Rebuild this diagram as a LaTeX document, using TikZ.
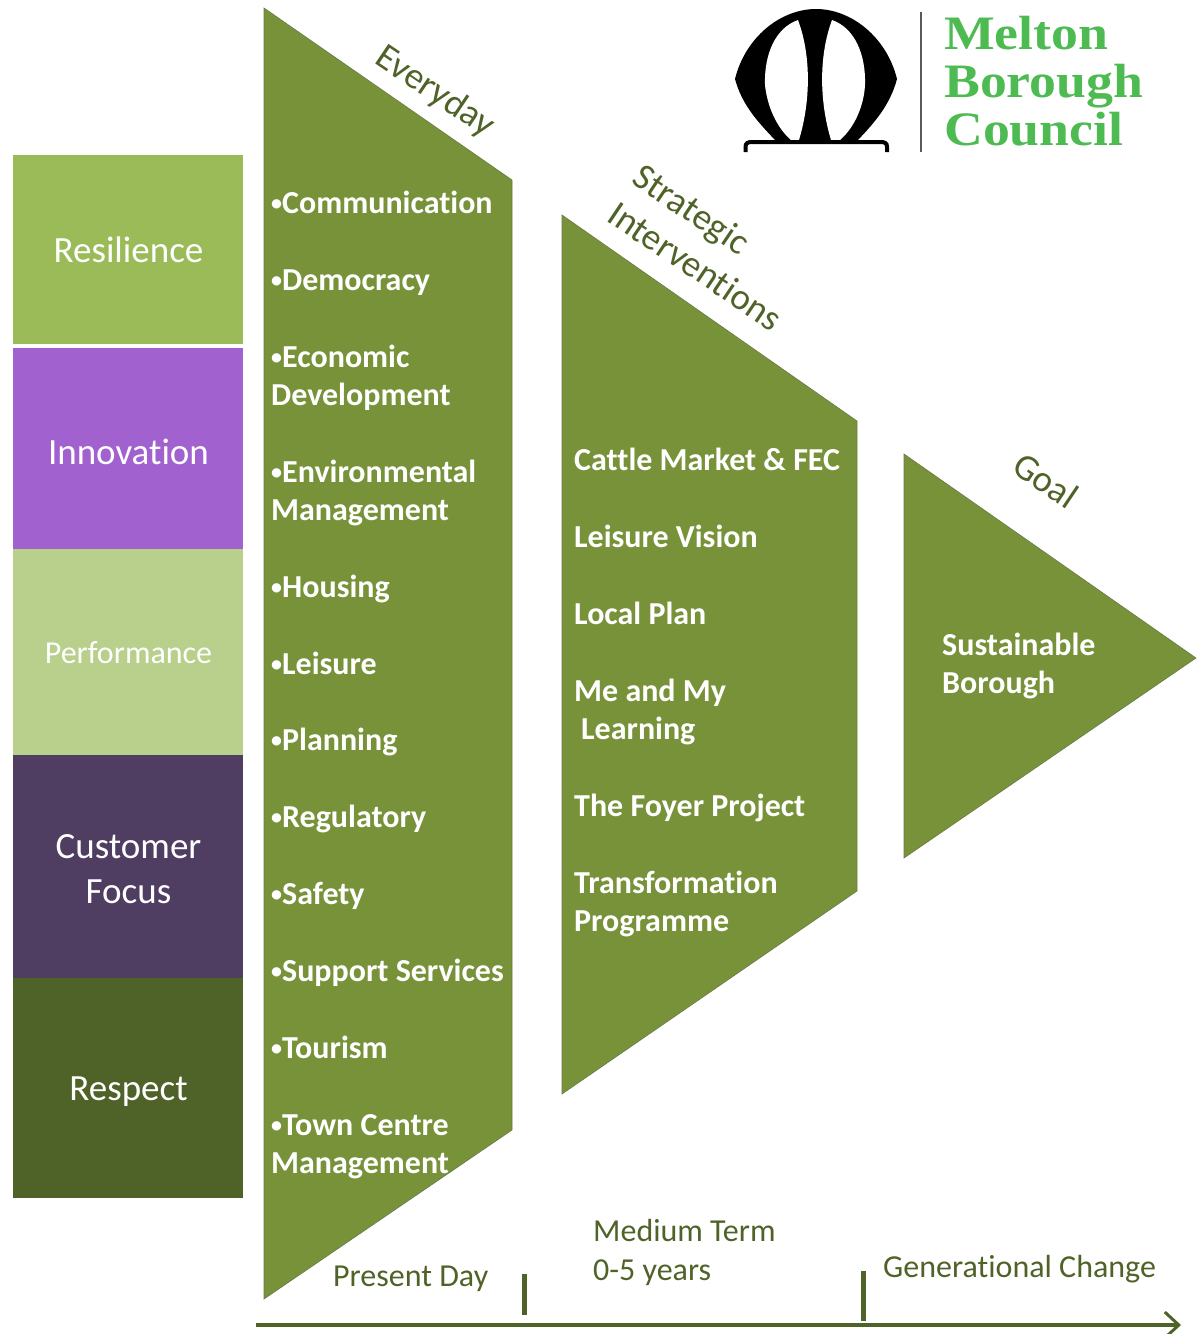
\documentclass[tikz,border=0pt]{standalone}
\usepackage{fontspec}
\setmainfont[Ligatures=NoCommon]{Carlito}
\newfontfamily\logofont[FakeStretch=1.12]{Liberation Serif}
\usetikzlibrary{arrows.meta}
\definecolor{leaf}{HTML}{78923A}
\definecolor{deep}{HTML}{4F6228}
\definecolor{resil}{HTML}{9BBB59}
\definecolor{innov}{HTML}{A162D0}
\definecolor{perf}{HTML}{B9CF8C}
\definecolor{cust}{HTML}{503D62}
\definecolor{logogreen}{HTML}{4DBB52}
\newcommand{\smallbullet}{\raisebox{3.5pt}{\fontsize{22}{22}\selectfont•}}
\tikzset{
  valuebox/.style={anchor=center,text=white,font=\fontsize{37}{45}\selectfont,align=center},
  itemtext/.style={anchor=west,yshift=-3pt,text=white,font=\fontsize{32}{38.3}\selectfont\bfseries,align=left,inner sep=0pt},
  headtext/.style={text=deep,font=\fontsize{37}{45}\selectfont,align=left,inner sep=0pt},
  timetext/.style={anchor=west,yshift=-3pt,text=deep,font=\fontsize{32}{39}\selectfont,align=left,inner sep=0pt},
  leafshape/.style={fill=leaf,draw=deep!85,line width=0.6pt}
}
\begin{document}
\begin{tikzpicture}[x=1pt,y=-1pt]
  \useasboundingbox (0,0) rectangle (1198,1334);
  % values
  \foreach \ya/\yb/\col in {155/344/resil,348/549/innov,549/755/perf,755/978/cust,978/1198/deep}
    \fill[\col] (13,\ya) rectangle (243,\yb);
  \node[valuebox] (resilience) at (128.5,250) {Resilience};
  \node[valuebox] (innovation) at (128.5,452) {Innovation};
  \node[valuebox,font=\fontsize{32}{38}\selectfont] (performance) at (128.5,653) {Performance};
  \node[valuebox] (customer) at (128.5,869) {Customer\\Focus};
  \node[valuebox] (respect) at (128.5,1092) {Respect};
  % arrows
  \path[leafshape] (264,8) -- (512,180) -- (512,1130) -- (264,1299) -- cycle;
  \path[leafshape] (562,215) -- (857,421) -- (857,891) -- (562,1094) -- cycle;
  \path[leafshape] (904,454) -- (1196,658) -- (904,858) -- cycle;
  \node[headtext,rotate=-34] (everyday) at (435,92) {Everyday};
  \node[headtext,rotate=-34] (strategic) at (708,247) {Strategic\\Interventions};
  \node[headtext,rotate=-34] (goal) at (1046,480) {Goal};
  % everyday list
  \foreach \y/\txt in {203/Communication,280/Democracy,376/Economic\\\phantom{}Development,491/Environmental\\\phantom{}Management,
    587/Housing,664/Leisure,740/Planning,817/Regulatory,894/Safety,971/Support Services,1048/Tourism,1144/Town Centre\\\phantom{}Management}
    \node[itemtext] (item\y) at (271,\y) {\strut\smallbullet\txt\strut};
  % interventions
  \foreach \y/\txt in {460/Cattle Market \& FEC,537/Leisure Vision,614/Local Plan,710/Me and My\\\hspace*{7pt}Learning,806/The Foyer Project,902/Transformation\\Programme}
    \node[itemtext] (project\y) at (574,\y) {\strut\txt\strut};
  \node[itemtext] (borough) at (942,664) {\strut Sustainable\\Borough\strut};
  % time line
  \node[timetext] (present) at (333,1276) {\strut Present Day\strut};
  \node[timetext] (medium) at (593,1250) {\strut Medium Term\\0-5 years\strut};
  \node[timetext] (generational) at (883,1267) {\strut Generational Change\strut};
  \coordinate (start) at (256,1325);
  \coordinate (end) at (1181,1325);
  \draw[deep,line width=4.5pt,-{Straight Barb[length=14pt,width=26pt,line width=3pt]}] (start) -- (end);
  \draw[deep,line width=5pt] (524,1274) -- (524,1315);
  \draw[deep,line width=5pt] (863,1271) -- (863,1321);
  % logo
  \fill[black] (735,79) .. controls (745,38) and (780,9) .. (816,9)
    .. controls (852,9) and (887,38) .. (897,79)
    .. controls (890,105) and (875,122) .. (858,140) -- (775,140)
    .. controls (758,122) and (742,105) .. (735,79) -- cycle;
  \fill[white] (798,20) .. controls (775,28) and (764,55) .. (765,85)
    .. controls (767,105) and (776,127) .. (791,140)
    -- (799,140) .. controls (811,100) and (811,55) .. (798,20) -- cycle;
  \fill[white] (832,20) .. controls (855,28) and (866,55) .. (865,85)
    .. controls (864,105) and (855,127) .. (840,140)
    -- (831,140) .. controls (819,100) and (819,55) .. (832,20) -- cycle;
  \draw[black,line width=4pt] (745.5,152) -- (745.5,147) .. controls (745.5,143) and (748,142) .. (752,142) -- (880,142) .. controls (885,142) and (887,143) .. (887,147) -- (887,152);
  \draw[black!65,line width=2.5pt] (921,12) -- (921,152);
  \node[anchor=west,text=logogreen,inner sep=0pt,align=left,font=\logofont\fontsize{48}{48}\selectfont\bfseries] (logotext) at (944,81) {Melton\\Borough\\Council};
\end{tikzpicture}
\end{document}
